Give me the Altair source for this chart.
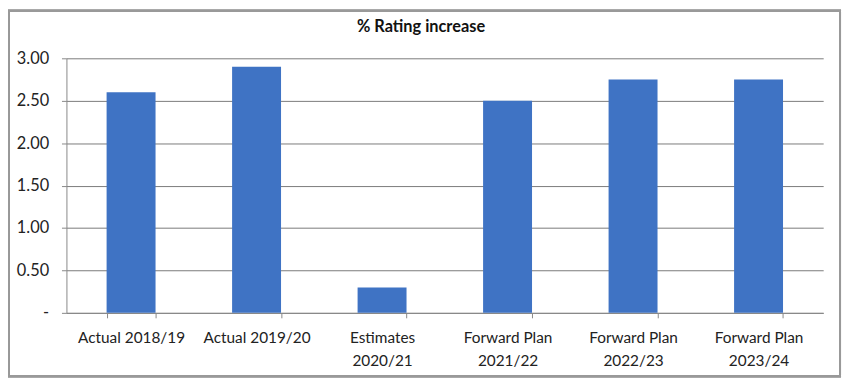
import altair as alt
import pandas as pd

categories = ["Actual 2018/19", "Actual 2019/20", "Estimates|2020/21",
              "Forward Plan|2021/22", "Forward Plan|2022/23", "Forward Plan|2023/24"]
values = [2.60, 2.90, 0.30, 2.50, 2.75, 2.75]
chart_title = "% Rating increase"

df = pd.DataFrame({"cat": categories, "val": values})

W, H = 764, 257
FONT = "Lato"

bars = alt.Chart(df).mark_bar(color="#3f73c4").encode(
    x=alt.X("cat:N", sort=None, title=None,
            scale=alt.Scale(paddingInner=0.61, paddingOuter=0.32),
            axis=alt.Axis(labelAngle=0,
                          labelExpr="datum.value ? split(datum.value, '|') : ''",
                          tickBand="extent", labelFont=FONT, labelFontSize=15.5,
                          labelColor="#222", domainColor="#888", tickColor="#888",
                          tickSize=5, labelPadding=13, labelLineHeight=23)),
    y=alt.Y("val:Q", title=None,
            scale=alt.Scale(domain=[0, 3]),
            axis=alt.Axis(values=[0, 0.5, 1, 1.5, 2, 2.5, 3],
                          labelExpr="datum.value == 0 ? '-' : format(datum.value, '.2f')",
                          labelFont=FONT, labelFontSize=16.5, labelColor="#222",
                          gridColor="#7a7a7a", domainColor="#888", tickColor="#888",
                          tickSize=5, labelPadding=13)),
)

frame = alt.Chart(df).mark_rect(fill=None, stroke="#999", strokeWidth=2).encode(
    x=alt.value(-58), x2=alt.value(W + 17), y=alt.value(-48), y2=alt.value(H + 64)
)

title = alt.Chart(pd.DataFrame({"t": [chart_title]})).mark_text(
    font=FONT, fontSize=16.5, fontWeight="bold", color="#111", align="center", baseline="middle"
).encode(text="t:N", x=alt.value(425 - 67), y=alt.value(25 - 57))

chart = alt.layer(frame, bars, title).properties(
    width=W, height=H,
    autosize=alt.AutoSizeParams(type="none"),
    padding={"left": 59, "top": 49, "right": 19, "bottom": 66},
).configure_view(stroke=None)

chart.save("out.html", embed_options={"renderer": "svg", "actions": False})
